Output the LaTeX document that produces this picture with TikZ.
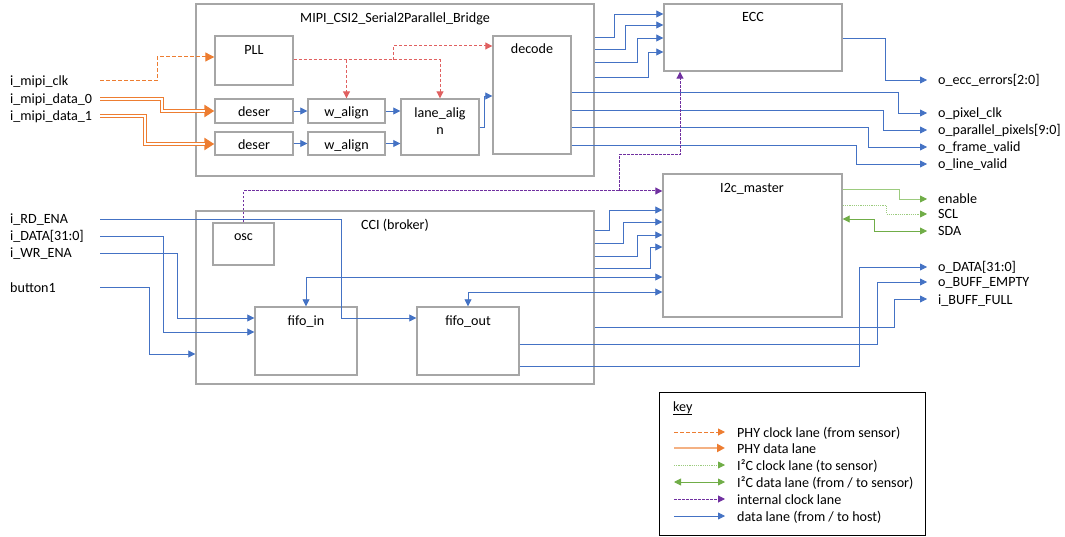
\documentclass[tikz,border=0pt]{standalone}
\usepackage{fontspec}
\setmainfont{Carlito}
\usetikzlibrary{arrows.meta,fit}
\definecolor{bgray}{HTML}{A6A6A6}
\definecolor{dblue}{HTML}{4472C4}
\definecolor{dorange}{HTML}{ED7D31}
\definecolor{pllred}{RGB}{224,96,96}
\definecolor{dpurple}{HTML}{7030A0}
\definecolor{dgreen}{HTML}{70AD47}
\definecolor{lgreen}{HTML}{9CCB7E}
\begin{document}
\begin{tikzpicture}[x=1pt,y=-1pt,
  font=\fontsize{14.1}{16}\selectfont,
  box/.style={draw=bgray, line width=1.4pt, inner sep=0pt},
  txt/.style={inner sep=0pt, text height=11pt, text depth=1pt},
  inlbl/.style={txt, anchor=west, text width=90pt, align=left},
  outlbl/.style={txt, anchor=west, inner xsep=11pt},
  keylbl/.style={txt, anchor=west, inner xsep=12pt},
  tip/.style={-{Triangle[length=7pt,width=7pt]}},
  dl/.style={draw=dblue, line width=0.8pt, tip},
  dlb/.style={draw=dblue, line width=0.8pt, {Triangle[length=7pt,width=7pt]}-{Triangle[length=7pt,width=7pt]}},
  phyclk/.style={draw=dorange, line width=1pt, dash pattern=on 4pt off 2pt, -{Triangle[length=9pt,width=9pt]}},
  phydata/.style={draw=dorange, line width=4.6pt, -{Triangle[length=10pt,width=12pt]},
     postaction={draw=white, line width=1.8pt, shorten >=9pt, -}},
  pllclk/.style={draw=pllred, line width=1pt, dash pattern=on 3pt off 2pt, -{Triangle[length=7pt,width=7pt]}},
  iclk/.style={draw=dpurple, line width=1pt, dash pattern=on 2.5pt off 1.5pt, -{Triangle[length=7pt,width=7pt]}},
  i2cd/.style={draw=lgreen, line width=0.9pt, -{Triangle[length=7pt,width=7pt,color=dgreen]}},
  i2cdb/.style={draw=dgreen, line width=0.9pt, {Triangle[length=7pt,width=7pt]}-{Triangle[length=7pt,width=7pt]}},
  i2cc/.style={draw=lgreen, line width=0.9pt, dash pattern=on 1.2pt off 1pt, -{Triangle[length=7pt,width=7pt,color=dgreen]}}
]
\useasboundingbox (0,0) rectangle (1065,537);

% ---------- boxes ----------
\node[box, fit={(196,4) (594,176)}] (mipi) {};
\node[box, fit={(215,36) (293,85)}] (pll) {};
\node[box, fit={(215,99) (293,123)}] (deser1) {};
\node[box, fit={(215,132) (293,155)}] (deser2) {};
\node[box, fit={(308,99) (385,123)}] (wal1) {};
\node[box, fit={(308,132) (385,155)}] (wal2) {};
\node[box, fit={(401,99) (479,155)}] (lal) {};
\node[box, fit={(493,36) (571,154)}] (dec) {};
\node[box, fit={(664,4) (842,71)}] (ecc) {};
\node[box, fit={(196,211) (594,384)}] (cci) {};
\node[box, fit={(213,223) (274,265)}] (osc) {};
\node[box, fit={(663,174) (842,317)}] (i2c) {};
\node[box, fit={(255,307) (357,375)}] (fin) {};
\node[box, fit={(417,307) (519,375)}] (fout) {};
\node[draw=black, line width=0.9pt, inner sep=0pt, fit={(659,392) (925,535)}] (keybox) {};

% ---------- box texts ----------
\node[txt] (mipiT) at (395,18) {MIPI\_CSI2\_Serial2Parallel\_Bridge};
\node[txt] (pllT) at (254,50) {PLL};
\node[txt] (deser1T) at (254,112) {deser};
\node[txt] (deser2T) at (254,145) {deser};
\node[txt] (wal1T) at (346.5,112) {w\_align};
\node[txt] (wal2T) at (346.5,145) {w\_align};
\node[txt] (lalT1) at (440,113) {lane\_alig};
\node[txt] (lalT2) at (440,130) {n};
\node[txt] (decT) at (532,49) {decode};
\node[txt] (eccT) at (753,17) {ECC};
\node[txt] (cciT) at (395,225) {CCI (broker)};
\node[txt] (oscT) at (243.5,236) {osc};
\node[txt] (i2cT) at (752,188) {I2c\_master};
\node[txt] (finT) at (306,320) {fifo\_in};
\node[txt] (foutT) at (468,320) {fifo\_out};

% ---------- input labels ----------
\node[inlbl] (inclk) at (10,81) {i\_mipi\_clk};
\node[inlbl] (ind0) at (10,99) {i\_mipi\_data\_0};
\node[inlbl] (ind1) at (10,116) {i\_mipi\_data\_1};
\node[inlbl] (inrd) at (10,219) {i\_RD\_ENA};
\node[inlbl] (indata) at (10,236) {i\_DATA[31:0]};
\node[inlbl] (inwr) at (10,253) {i\_WR\_ENA};
\node[inlbl] (inbtn) at (10,287) {button1};

% ---------- output labels ----------
\node[outlbl] (oecc) at (927,80) {o\_ecc\_errors[2:0]};
\node[outlbl] (opclk) at (927,113) {o\_pixel\_clk};
\node[outlbl] (opp) at (927,130) {o\_parallel\_pixels[9:0]};
\node[outlbl] (ofv) at (927,147) {o\_frame\_valid};
\node[outlbl] (olv) at (927,164) {o\_line\_valid};
\node[outlbl] (oen) at (927,199) {enable};
\node[outlbl] (oscl) at (927,214) {SCL};
\node[outlbl] (osda) at (927,231) {SDA};
\node[outlbl] (odata) at (927,267) {o\_DATA[31:0]};
\node[outlbl] (obe) at (927,282) {o\_BUFF\_EMPTY};
\node[outlbl] (ibf) at (927,299) {i\_BUFF\_FULL};

% ---------- PHY lanes ----------
\draw[phyclk] (inclk.east) -- (157,81) -- (157,57) -- (pll.west |- 0,57);
\draw[phydata] (ind0.east) -- (162,99) -- (162,111) -- (deser1.west |- 0,111);
\draw[phydata] (ind1.east) -- (145,116) -- (145,144) -- (deser2.west |- 0,144);

% ---------- MIPI internal ----------
\draw[dl] (deser1.east) -- (wal1.west);
\draw[dl] (deser2.east) -- (wal2.west);
\draw[dl] (wal1.east) -- (lal.west |- wal1.east);
\draw[dl] (wal2.east) -- (lal.west |- wal2.east);
\draw[dl] (lal.east |- 0,127) -- (484,127) -- (484,96) -- (dec.west |- 0,96);

\coordinate (r2) at (393,60);
\draw[pllclk] (pll.east |- 0,60) -- (lal.north |- 0,60) -- (lal.north);
\draw[pllclk] (wal1.north |- 0,60) -- (wal1.north);
\draw[pllclk] (r2) -- (393,46) -- (dec.west |- 0,46);

% ---------- MIPI -> ECC ----------
\draw[dl] (mipi.east |- 0,37) -- (614,37) -- (614,14) -- (ecc.west |- 0,14);
\draw[dl] (mipi.east |- 0,49) -- (625,49) -- (625,25) -- (ecc.west |- 0,25);
\draw[dl] (mipi.east |- 0,62) -- (637,62) -- (637,38) -- (ecc.west |- 0,38);
\draw[dl] (mipi.east |- 0,77) -- (648,77) -- (648,52) -- (ecc.west |- 0,52);

% ---------- decode / ECC outputs ----------
\draw[dl] (ecc.east |- 0,38) -- (885,38) -- (885,80) -- (oecc.west);
\draw[dl] (dec.east |- 0,92) -- (898,92) -- (898,113) -- (opclk.west);
\draw[dl] (dec.east |- 0,110) -- (883,110) -- (883,130) -- (opp.west);
\draw[dl] (dec.east |- 0,127) -- (868,127) -- (868,147) -- (ofv.west);
\draw[dl] (dec.east |- 0,145) -- (856,145) -- (856,164) -- (olv.west);

% ---------- internal clock ----------
\coordinate (p1) at (619,191);
\draw[iclk] (osc.north) -- (243.5,191) -- (i2c.west |- 0,191);
\draw[iclk] (p1) -- (619,155) -- (680,155) -- (ecc.south -| 680,0);

% ---------- CCI -> I2C ----------
\draw[dl] (cci.east |- 0,230) -- (609,230) -- (609,210) -- (i2c.west |- 0,210);
\draw[dl] (cci.east |- 0,243) -- (623,243) -- (623,222) -- (i2c.west |- 0,222);
\draw[dl] (cci.east |- 0,256) -- (637,256) -- (637,235) -- (i2c.west |- 0,235);
\draw[dl] (cci.east |- 0,268) -- (650,268) -- (650,247) -- (i2c.west |- 0,247);

% ---------- host inputs ----------
\draw[dl] (inrd.east) -- (341,219) -- (341,318) -- (fout.west |- 0,318);
\draw[dl] (indata.east) -- (163,236) -- (163,332) -- (fin.west |- 0,332);
\draw[dl] (inwr.east) -- (177,253) -- (177,318) -- (fin.west |- 0,318);
\draw[dl] (inbtn.east) -- (149,287) -- (149,354) -- (cci.west |- 0,354);

% ---------- fifo <-> I2C ----------
\draw[dlb] (fin.north) -- (306,277) -- (i2c.west |- 0,277);
\draw[dlb] (fout.north) -- (468,292) -- (i2c.west |- 0,292);

% ---------- host outputs ----------
\draw[dl] (cci.east |- 0,327) -- (894,327) -- (894,299) -- (ibf.west);
\draw[dl] (fout.east |- 0,344) -- (877,344) -- (877,282) -- (obe.west);
\draw[dl] (fout.east |- 0,366) -- (859,366) -- (859,267) -- (odata.west);

% ---------- I2C outputs ----------
\draw[i2cd] (i2c.east |- 0,189) -- (899,189) -- (899,199) -- (oen.west);
\draw[i2cc] (i2c.east |- 0,205) -- (886,205) -- (886,214) -- (oscl.west);
\draw[i2cdb] (i2c.east |- 0,219) -- (874,219) -- (874,231) -- (osda.west);

% ---------- key ----------
\node[txt, anchor=west] (keyT) at (673,406) {\underline{key}};
\node[keylbl] (k1) at (725,432) {PHY clock lane (from sensor)};
\node[keylbl] (k2) at (725,448) {PHY data lane};
\node[keylbl] (k3) at (725,465) {I²C clock lane (to sensor)};
\node[keylbl] (k4) at (725,482) {I²C data lane (from / to sensor)};
\node[keylbl] (k5) at (725,499) {internal clock lane};
\node[keylbl] (k6) at (725,516) {data lane (from / to host)};
\coordinate (ks1) at (674,432);
\coordinate (ks2) at (674,448);
\coordinate (ks3) at (674,465);
\coordinate (ks4) at (674,482);
\coordinate (ks5) at (674,499);
\coordinate (ks6) at (674,516);
\draw[phyclk, -{Triangle[length=7pt,width=7pt]}] (ks1) -- (k1.west);
\draw[draw=dorange!60, line width=2.6pt, -{Triangle[length=8pt,width=8pt,color=dorange]}] (ks2) -- (k2.west);
\draw[i2cc] (ks3) -- (k3.west);
\draw[i2cdb] (ks4) -- (k4.west);
\draw[iclk] (ks5) -- (k5.west);
\draw[dl] (ks6) -- (k6.west);
\end{tikzpicture}
\end{document}
